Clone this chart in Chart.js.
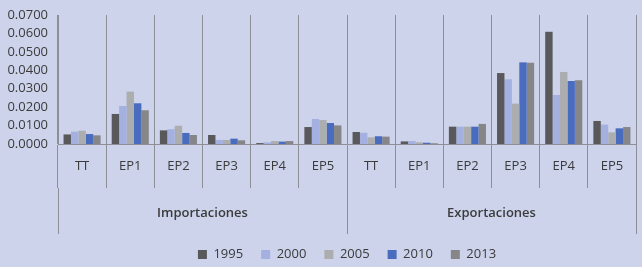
<!DOCTYPE html>
<html lang="es">
<head>
  <meta charset="UTF-8" />
  <title>Importaciones y Exportaciones</title>
  <script src="https://cdn.jsdelivr.net/npm/chart.js"></script>
  <style>
    html, body { margin: 0; padding: 0; background: #cdd3eb; }
    #contenedor { width: 642px; height: 267px; }
  </style>
</head>
<body>
  <div id="contenedor"><canvas id="grafico"></canvas></div>

  <script>
    // categorias del eje x (dos grupos de seis)
    var categorias = ['TT', 'EP1', 'EP2', 'EP3', 'EP4', 'EP5', 'TT', 'EP1', 'EP2', 'EP3', 'EP4', 'EP5'];
    var grupos = ['Importaciones', 'Exportaciones'];
    var anios = ['1995', '2000', '2005', '2010', '2013'];

    // valores
    var valores1995 = [0.0052, 0.0163, 0.0074, 0.0049, 0.0005, 0.0092, 0.0065, 0.0014, 0.0094, 0.0385, 0.0609, 0.0125];
    var valores2000 = [0.0067, 0.0206, 0.0080, 0.0022, 0.0009, 0.0136, 0.0061, 0.0016, 0.0094, 0.0351, 0.0266, 0.0105];
    var valores2005 = [0.0072, 0.0284, 0.0099, 0.0022, 0.0016, 0.0130, 0.0036, 0.0009, 0.0094, 0.0219, 0.0391, 0.0063];
    var valores2010 = [0.0054, 0.0221, 0.0060, 0.0029, 0.0013, 0.0114, 0.0042, 0.0007, 0.0094, 0.0443, 0.0342, 0.0085];
    var valores2013 = [0.0047, 0.0183, 0.0049, 0.0020, 0.0016, 0.0101, 0.0040, 0.0004, 0.0109, 0.0441, 0.0346, 0.0092];

    var colores = ['#59595b', '#a3b0e0', '#acadae', '#4a6cbe', '#868688'];
    var series = [valores1995, valores2000, valores2005, valores2010, valores2013];

    var lineaGris = '#8e8f96';
    var fuente = "'Open Sans', sans-serif";

    var datasets = [];
    for (var i = 0; i < anios.length; i++) {
      datasets.push({
        label: anios[i],
        data: series[i],
        backgroundColor: colores[i],
        borderWidth: 0,
        barPercentage: 1,
        categoryPercentage: 0.77,
        xAxisID: 'x',
        yAxisID: 'y'
      });
    }

    Chart.defaults.font.family = fuente;
    Chart.defaults.color = '#3b3b3b';

    new Chart(document.getElementById('grafico'), {
      type: 'bar',
      data: { labels: categorias, datasets: datasets },
      options: {
        responsive: true,
        maintainAspectRatio: false,
        animation: false,
        layout: { padding: { top: 15, right: 6, left: 0, bottom: -4 } },
        plugins: {
          tooltip: { enabled: false },
          legend: {
            position: 'bottom',
            fullSize: false,
            labels: {
              boxWidth: 9,
              boxHeight: 9,
              padding: 18,
              font: { size: 13 },
              color: '#3b3b3b'
            }
          }
        },
        scales: {
          x: {
            type: 'category',
            position: 'bottom',
            labels: categorias,
            offset: true,
            grid: {
              offset: true,
              color: lineaGris,
              tickLength: 44,
              drawOnChartArea: true
            },
            border: { color: lineaGris },
            ticks: { padding: -30, font: { size: 13 }, maxRotation: 0, autoSkip: false },
            afterFit: function (scale) { scale.height = 44; }
          },
          x2: {
            type: 'category',
            position: 'bottom',
            labels: grupos,
            offset: true,
            grid: {
              offset: true,
              color: lineaGris,
              tickLength: 46,
              drawOnChartArea: false
            },
            border: { display: false },
            ticks: { padding: -29, font: { size: 13, weight: '600' }, maxRotation: 0 },
            afterFit: function (scale) { scale.height = 42; }
          },
          y: {
            min: 0,
            max: 0.07,
            grid: { display: false, drawTicks: false },
            border: { display: true, color: lineaGris },
            ticks: {
              stepSize: 0.01,
              autoSkip: false,
              padding: 10,
              font: { size: 13 },
              callback: function (v) { return Number(v).toFixed(4); }
            },
            afterFit: function (scale) {
              scale.width = 58;
              scale.paddingTop = 0;
              scale.paddingBottom = 0;
            }
          }
        }
      }
    });
  </script>
</body>
</html>
